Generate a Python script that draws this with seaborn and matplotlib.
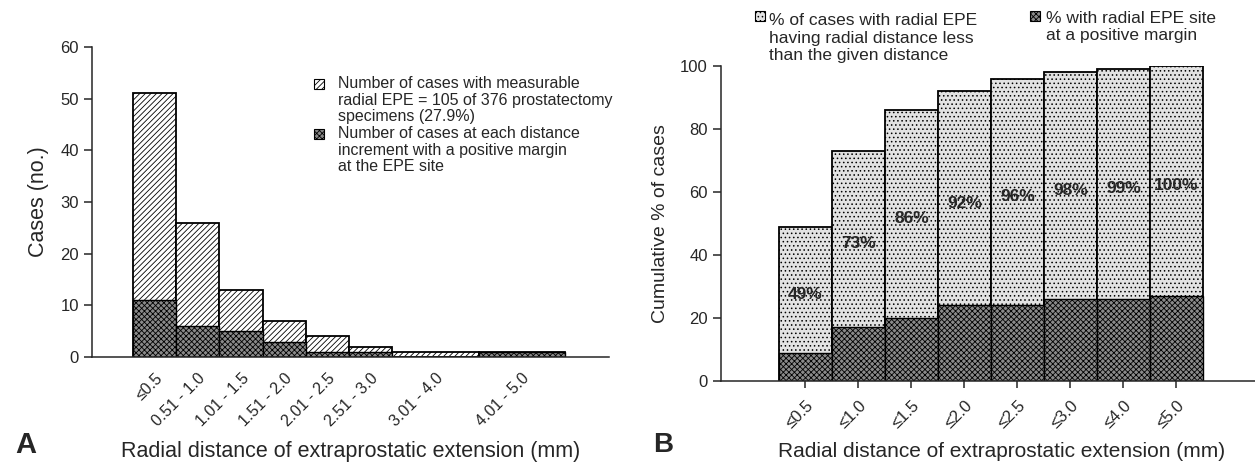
import numpy as np
import pandas as pd
import matplotlib
matplotlib.use('Agg')
import matplotlib.pyplot as plt
from matplotlib.patches import Rectangle
import seaborn as sns

# Panel A: cases per radial distance bin (mm)
bin_edges = [0, 0.5, 1.0, 1.5, 2.0, 2.5, 3.0, 4.0, 5.0]
bin_labels = ['≤0.5', '0.51 - 1.0', '1.01 - 1.5', '1.51 - 2.0', '2.01 - 2.5',
              '2.51 - 3.0', '3.01 - 4.0', '4.01 - 5.0']
total_cases = [51, 26, 13, 7, 4, 2, 1, 1]
positive_cases = [11, 6, 5, 3, 1, 1, 0, 1]

# Panel B: cumulative percentages
cum_labels = ['≤0.5', '≤1.0', '≤1.5', '≤2.0', '≤2.5', '≤3.0', '≤4.0', '≤5.0']
cum_pct = [49, 73, 86, 92, 96, 98, 99, 100]
cum_positive_pct = [9, 17, 20, 24, 24, 26, 26, 27]

sns.set_style('ticks')
plt.rcParams['font.family'] = ['Liberation Sans', 'DejaVu Sans']
plt.rcParams['hatch.linewidth'] = 0.6

LIGHT_HATCH = dict(facecolor='white', hatch='//////')
DARK_HATCH = dict(facecolor='#8a8a8a', hatch='xxxxxx')
DOT_LIGHT = dict(facecolor='#e2e2e2', hatch='....')

W, H = 1255, 463
fig = plt.figure(figsize=(W / 100, H / 100), dpi=100)
# axes boxes in pixels: left, top, right, bottom
ax1 = fig.add_axes([92 / W, 1 - 357 / H, (609 - 92) / W, (357 - 47) / H])
ax2 = fig.add_axes([721 / W, 1 - 381 / H, (1283 - 721) / W, (381 - 66) / H])

# ---- Panel A ----
mids = [(a + b) / 2 for a, b in zip(bin_edges[:-1], bin_edges[1:])]
df_a = pd.DataFrame({'mid': mids, 'total': total_cases, 'pos': positive_cases})

sns.histplot(data=df_a, x='mid', weights='total', bins=bin_edges, ax=ax1,
             color='white', edgecolor='black', linewidth=1.3, alpha=1)
n_light = len(ax1.patches)
sns.histplot(data=df_a, x='mid', weights='pos', bins=bin_edges, ax=ax1,
             color='#707070', edgecolor='black', linewidth=1.0, alpha=1)
for i, p in enumerate(ax1.patches):
    style = LIGHT_HATCH if i < n_light else DARK_HATCH
    p.set_facecolor(style['facecolor'])
    p.set_hatch(style['hatch'])
    p.set_edgecolor('black')

ax1.set_xlim(-0.475, 5.51)
ax1.set_ylim(0, 60)
ax1.set_yticks(range(0, 61, 10))
ax1.set_xticks(mids)
ax1.set_xticklabels(bin_labels, rotation=45, ha='right', rotation_mode='anchor')
ax1.tick_params(axis='x', length=0, pad=10, labelsize=11.5)
ax1.tick_params(axis='y', length=6, width=1.1, labelsize=12)
ax1.set_xlabel('Radial distance of extraprostatic extension (mm)', fontsize=15.5, labelpad=8)
ax1.set_ylabel('Cases (no.)', fontsize=15.5, labelpad=8)
sns.despine(ax=ax1)
for s in ax1.spines.values():
    s.set_linewidth(1.1)

# ---- Panel B ----
df_b = pd.DataFrame({'dist': cum_labels, 'cum': cum_pct, 'pos': cum_positive_pct})
sns.barplot(data=df_b, x='dist', y='cum', ax=ax2, width=1, color='white',
            edgecolor='black', linewidth=1.3, saturation=1)
n_light_b = len(ax2.patches)
sns.barplot(data=df_b, x='dist', y='pos', ax=ax2, width=1, color='#707070',
            edgecolor='black', linewidth=1.0, saturation=1)
for i, p in enumerate(ax2.patches):
    style = DOT_LIGHT if i < n_light_b else DARK_HATCH
    p.set_facecolor(style['facecolor'])
    p.set_hatch(style['hatch'])
    p.set_edgecolor('black')

for i, (c, pos) in enumerate(zip(cum_pct, cum_positive_pct)):
    ax2.text(i, (c + pos) / 2 - 1.5, f'{c}%', ha='center', va='center',
             fontsize=12.5, fontweight='bold')

ax2.set_xlim(-1.594, 9.01)
ax2.set_ylim(0, 100)
ax2.set_yticks(range(0, 101, 20))
ax2.set_xticks(range(len(cum_labels)))
ax2.set_xticklabels(cum_labels, rotation=45, ha='right', rotation_mode='anchor')
ax2.tick_params(axis='x', length=5, width=1.1, pad=7, labelsize=12)
ax2.tick_params(axis='y', length=6, width=1.1, labelsize=12)
ax2.set_xlabel('Radial distance of extraprostatic extension (mm)', fontsize=15, labelpad=8)
ax2.set_ylabel('Cumulative % of cases', fontsize=14, labelpad=8)
sns.despine(ax=ax2)
for s in ax2.spines.values():
    s.set_linewidth(1.1)


# ---- legends drawn by hand ----
def legend_box(x, y, style):
    r = Rectangle((x / W, 1 - (y + 5) / H), 10 / W, 10 / H, transform=fig.transFigure,
                  facecolor=style['facecolor'], hatch=style['hatch'],
                  edgecolor='black', linewidth=0.8)
    fig.add_artist(r)


def legend_text(x, y, s, size, spacing):
    fig.text(x / W, 1 - y / H, s, fontsize=size, va='center', ha='left',
             linespacing=spacing)


legend_box(314, 84, LIGHT_HATCH)
legend_text(338, 100, 'Number of cases with measurable\nradial EPE = 105 of 376 prostatectomy\nspecimens (27.9%)',
            11.5, 1.1)
legend_box(314, 134, DARK_HATCH)
legend_text(338, 150, 'Number of cases at each distance\nincrement with a positive margin\nat the EPE site',
            11.5, 1.1)

legend_box(755, 16, DOT_LIGHT)
legend_text(769, 38, '% of cases with radial EPE\nhaving radial distance less\nthan the given distance',
            12.5, 1.22)
legend_box(1030, 16, DARK_HATCH)
legend_text(1046, 27, '% with radial EPE site\nat a positive margin', 12.5, 1.22)

fig.text(15 / W, 1 - 453 / H, 'A', fontsize=21, fontweight='bold')
fig.text(653 / W, 1 - 452 / H, 'B', fontsize=20, fontweight='bold')

fig.savefig('out.png', dpi=100)
